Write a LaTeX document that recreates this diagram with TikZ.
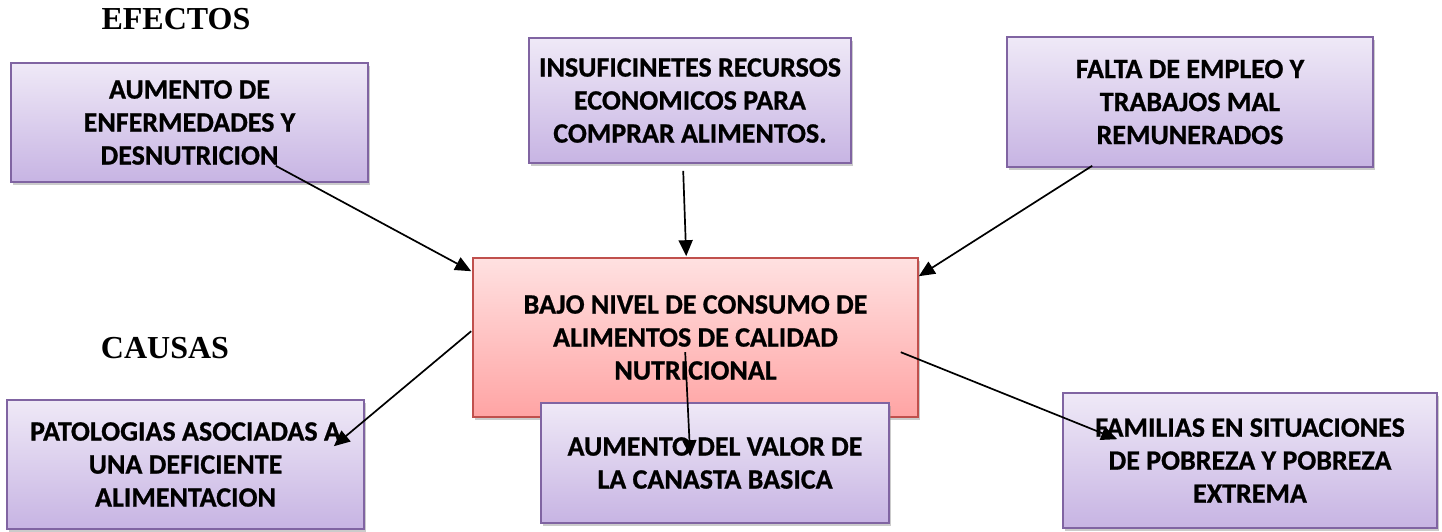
\documentclass[tikz,border=0pt]{standalone}
\usepackage{fontspec}
\setmainfont{Liberation Serif}
\newfontfamily\calibri[BoldFeatures={FakeBold=0.8}]{Carlito}
\usetikzlibrary{positioning}
\usetikzlibrary{shadows,arrows.meta,calc}

\definecolor{lilaA}{HTML}{EFE9F7}
\definecolor{lilaB}{HTML}{C7B4E3}
\definecolor{lilaBorde}{HTML}{8064A2}
\definecolor{rojoA}{HTML}{FFE1E1}
\definecolor{rojoB}{HTML}{FFA4A4}
\definecolor{rojoBorde}{HTML}{C0504D}

\tikzset{
	caja/.style={draw=lilaBorde, line width=1.6pt, top color=lilaA, bottom color=lilaB,
		drop shadow={shadow xshift=2pt, shadow yshift=-3pt, fill=black!45, opacity=.45},
		inner sep=0pt, align=center, font=\calibri\bfseries\fontsize{28}{33}\selectfont},
	central/.style={caja, draw=rojoBorde, top color=rojoA, bottom color=rojoB},
	titulo/.style={font=\bfseries\fontsize{32}{36}\selectfont},
	flecha/.style={line width=1.7pt, -{Triangle[length=16pt,width=14pt]}}
}

\begin{document}
\begin{tikzpicture}[x=1pt, y=-1pt]
					\useasboundingbox (0,0) rectangle (1442,531);
					\node[titulo] (efectos) at (176,19) {EFECTOS};
					\node[titulo] (causas) at (165,348) {CAUSAS};
					% efectos
					\node[caja, minimum width=357pt, minimum height=119pt] (efe1) at (189.5,122.5) {AUMENTO DE\\ENFERMEDADES Y\\DESNUTRICION};
					\node[caja, minimum width=322pt, minimum height=125pt] (efe2) at (690,100.5) {INSUFICINETES RECURSOS\\ECONOMICOS PARA\\COMPRAR ALIMENTOS.};
					\node[caja, minimum width=366pt, minimum height=130pt] (efe3) at (1190,102) {FALTA DE EMPLEO Y\\TRABAJOS MAL\\REMUNERADOS};
					% problema central
					\node[central, minimum width=445pt, minimum height=159pt] (prob) at (695.5,337.5) {BAJO NIVEL DE CONSUMO DE\\ALIMENTOS DE CALIDAD\\NUTRICIONAL};
					% causas
					\node[caja, minimum width=357pt, minimum height=129pt] (cau1) at (185.5,464.5) {PATOLOGIAS ASOCIADAS A\\UNA DEFICIENTE\\ALIMENTACION};
					\node[caja, minimum width=348pt, minimum height=120pt] (cau2) at (715,463) {AUMENTO DEL VALOR DE\\LA CANASTA BASICA};
					\node[caja, minimum width=374pt, minimum height=135pt] (cau3) at (1250,460.5) {FAMILIAS EN SITUACIONES\\DE POBREZA Y POBREZA\\EXTREMA};
					% puntos de las flechas
					\coordinate (s1) at ($(efe1.south east)+(-93,-17)$);
					\coordinate (e1) at ($(prob.north west)+(-1,14)$);
					\coordinate (s2) at ($(efe2.south west)+(155,7)$);
					\coordinate (e2) at ($(prob.north west)+(214,-1)$);
					\coordinate (s3) at ($(efe3.south west)+(86,-2)$);
					\coordinate (e3) at ($(prob.north east)+(0,19)$);
					\coordinate (s4) at ($(prob.north west)+(-1,74)$);
					\coordinate (e4) at ($(cau1.north east)+(-31,47)$);
					\coordinate (s5) at ($(prob.north west)+(213,95)$);
					\coordinate (e5) at ($(cau2.north west)+(150,54)$);
					\coordinate (s6) at ($(prob.north east)+(-18,95)$);
					\coordinate (e6) at ($(cau3.north west)+(55,47)$);
					\draw[flecha] (s1) -- (e1);
					\draw[flecha] (s2) -- (e2);
					\draw[flecha] (s3) -- (e3);
					\draw[flecha] (s4) -- (e4);
					\draw[flecha] (s5) -- (e5);
					\draw[flecha] (s6) -- (e6);
				\end{tikzpicture}
\end{document}
